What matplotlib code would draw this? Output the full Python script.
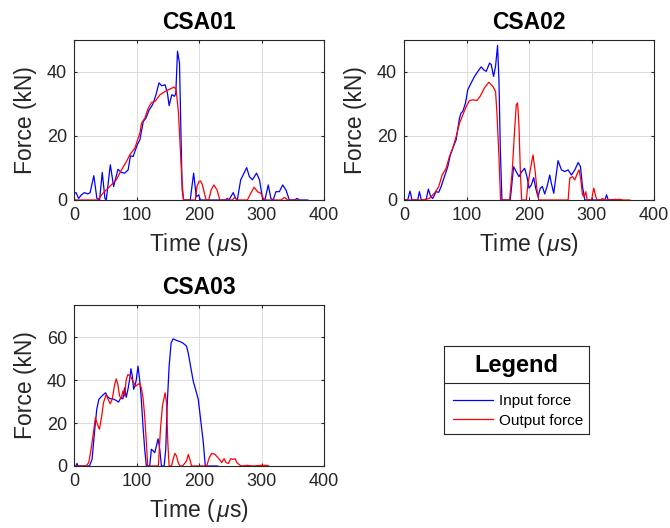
import matplotlib
matplotlib.use("Agg")
import matplotlib.pyplot as plt

plt.rcParams['font.family'] = ['Liberation Sans', 'DejaVu Sans']
plt.rcParams['mathtext.fontset'] = 'custom'
plt.rcParams['mathtext.it'] = 'Liberation Sans:italic'
plt.rcParams['mathtext.rm'] = 'Liberation Sans'

titles = ["CSA01", "CSA02", "CSA03"]
series_labels = ["Input force", "Output force"]
xticks = [0, 100, 200, 300, 400]

# ---- CSA01 ----
t1_in = [0, 3.2, 7.5, 11.8, 16.7, 22, 25.8, 31.7, 36.6, 40.9, 45.2, 49.5, 51.6, 58.1, 63.4,
         70.4, 75.8, 81.2, 86.6, 90.3, 94.6, 101.1, 105.4, 110.8, 115.1, 120.4, 125.8, 131.2,
         136, 140.3, 145.7, 149.5, 152.2, 156.5, 160.8, 162.9, 165.6, 168.8, 171, 173.1, 175.3,
         180.6, 186, 191.4, 195.7, 199.5, 202.2, 242.5, 245.2, 247.8, 254.8, 258.6, 261.3,
         266.7, 272, 276.3, 280.6, 285.5, 292, 296.8, 301.6, 305.4, 310.8, 315, 318.8, 323.1,
         328.5, 333.9, 339.2, 344.6, 352.7, 357, 360.8, 374]
f1_in = [2.1, 2.3, 0.5, 1.6, 2.3, 1.9, 2.3, 7.6, 0.5, 0, 8.6, 0.5, 0, 11, 4.2,
         9.6, 8.6, 8.4, 9.4, 13.8, 13.6, 17.2, 18.8, 24.5, 25.6, 28.2, 29.8, 32.9,
         36.6, 35.7, 36, 33.4, 29.5, 32.9, 32.4, 33.4, 46.5, 42.8, 21.9, 3.1, 0,
         0, 0, 8.4, 1.0, 1.6, 0, 0, 0.5, 0, 2.3, 0.5, 0,
         6.3, 8.4, 10.1, 7.3, 6.3, 8.4, 6.3, 0.5, 0, 4.7, 0.5, 0, 2.6,
         2.6, 4.7, 3.1, 0, 0, 0.5, 0, 0]
t1_out = [0, 38.2, 46.2, 57, 67.7, 75.8, 83.9, 89.2, 97.3, 105.4, 108.1, 113.4, 118.8, 124.2,
          129.6, 137.6, 145.7, 153.8, 160.2, 163.4, 167.2, 169.9, 172.6, 175.3, 194.1, 196.8,
          199.5, 202.2, 205, 207.5, 211.3, 215.6, 219.4, 223.7, 229, 233.3, 253.2, 257, 261.3,
          277.4, 282.8, 288.2, 293.5, 298.9, 304.3, 331.2, 336.6, 341.9, 360]
f1_out = [0, 0, 2.1, 4.2, 6.3, 9.4, 12, 14.1, 16.2, 20.9, 24, 25.6, 28.7, 30.5,
          30.8, 32.9, 33.9, 34.7, 35.3, 34.5, 27.2, 16.7, 6.3, 0, 0, 4.2,
          5.6, 6.0, 5.0, 3.1, 0, 0, 3.1, 4.7, 3.1, 0, 0, 0.8, 0,
          0, 2.1, 4.0, 2.6, 2.1, 0, 0, 0.8, 0, 0]

# ---- CSA02 ----
t2_in = [0, 5.9, 9.6, 12.8, 21.9, 24.6, 27.8, 35.3, 39, 42.8, 46, 51.3, 55.6, 59.4, 64.7, 70,
         73.8, 78, 83.4, 88.8, 91.4, 94.1, 98.4, 102.1, 107.5, 112.8, 118.2, 123.5, 127.3,
         131.6, 136.9, 139.6, 143.3, 146.5, 149.7, 151.9, 154, 156.7, 170, 172.7, 175.4,
         179.7, 184, 188.2, 193, 196.8, 200, 203.7, 207.5, 210.7, 214.4, 218.2, 221.4, 225.1,
         228.9, 233.2, 235.8, 239.6, 246.5, 251.9, 257.2, 262.6, 267.9, 273.3, 278.6, 282.4,
         285.6, 289.3, 321.4, 324.1, 326.7, 338, 340]
f2_in = [0, 0, 2.8, 0, 0, 2.6, 0, 0, 3.4, 1.0, 0.5, 2.6, 2.4, 4.2, 7.3, 10.4,
         13.8, 16.2, 18.8, 25.6, 27.2, 27.7, 30.3, 34.5, 36.6, 38.6, 40.2, 41.6, 40.7,
         40.2, 42.8, 42.3, 38.6, 41.8, 48.3, 37.6, 16.7, 0, 0, 5.2, 10.4,
         8.8, 7.3, 8.8, 9.9, 7.3, 3.7, 4.7, 7.0, 3.7, 1.0, 3.7, 4.2, 1.9,
         4.2, 7.8, 5.2, 2.1, 12.3, 9.4, 8.9, 9.4, 7.8, 9.4, 11.7, 10.4,
         4.2, 0, 0, 1.6, 0, 0.2, 0]
t2_out = [0, 29.9, 40.6, 48.7, 55.6, 61, 67.4, 72.7, 78.1, 83.4, 88.8, 94.1, 99.5, 104.8,
          110.2, 116.6, 121.9, 128.9, 135.8, 142.2, 146.5, 148.7, 151.9, 154.5, 169, 173.3,
          177, 179.7, 181.8, 184, 186.1, 188.2, 195.7, 198.4, 202.1, 206.4, 209.6, 212.8,
          215.5, 262.6, 265.2, 269.5, 273.3, 277.5, 280.2, 282.9, 285.6, 288.2, 290.9, 293,
          300, 303.7, 306.9, 309.1, 314.4, 317.6, 321.4, 345.5, 350.8, 361.5]
f2_out = [0, 0, 0.5, 2.1, 4.2, 7.8, 9.9, 13.6, 16.2, 19.8, 24, 26.6, 29.2, 31.1,
          31.3, 31.1, 32.4, 35.1, 36.8, 35.5, 33.9, 27.2, 13.6, 0, 0, 9.4,
          22, 29.8, 30.3, 23, 9.4, 0, 0, 5.2, 9.4, 14.1, 9.4, 3.1,
          0, 0, 6.8, 7.3, 6.3, 8.4, 9.4, 6.3, 1.6, 1.0, 2.6, 0,
          0, 3.7, 1.0, 0, 0, 0.5, 0, 0.2, 0, 0]

# ---- CSA03 ----
t3_in = [0, 3.2, 4.8, 6.4, 24.7, 28.9, 32.7, 36.4, 39.7, 43.4, 47.2, 50.4, 54.1, 57.9, 62.2,
         66.5, 71.3, 75, 78.2, 80.9, 83.6, 86.3, 89, 91.1, 93.3, 95.4, 97.5, 99.7, 102.4, 105,
         107.7, 110.4, 113.1, 115.8, 121.1, 123.8, 126.5, 129.2, 131.8, 134.5, 137.2, 139.9,
         144.2, 146.8, 149, 152.2, 155.4, 158.6, 161.8, 165.1, 169.3, 174.7, 180.1, 182.7,
         186.5, 190.8, 194.5, 198.8, 202.6, 206.9, 210.1, 230]
f3_in = [0, 0, 1.2, 0, 0, 3.1, 15.5, 26.4, 31, 32.2, 33.3, 34.1, 32.2, 31.3, 31.3,
         30.7, 29.8, 31.8, 31.3, 36.4, 32, 35.7, 40.3, 45.3, 41.9, 35.7, 37.2, 40.3, 46.5, 40.3,
         31, 18.6, 7.8, 0, 0, 7.8, 7.1, 6.2, 9.3, 12.7, 7.8, 0,
         0, 7.8, 27.9, 46.5, 57.4, 59.2, 58.8, 58.4, 58.0, 57.2, 55.8, 52.7,
         46.5, 39.5, 35.7, 31, 21.7, 10.9, 0, 0]
t3_out = [0, 19.3, 23.6, 27.3, 31.1, 34.3, 37.5, 40.7, 43.9, 47.2, 51.4, 54.7, 57.9, 61.1,
          64.8, 67.5, 70.2, 72.9, 75.6, 78.2, 80.9, 83.6, 86.3, 90, 94.3, 98.6, 102.4, 105,
          107.7, 110.4, 113.1, 115.8, 117.9, 135, 138.3, 141.5, 145.8, 148, 150.1, 152.2, 156,
          158.6, 161.3, 164, 166.7, 169.3, 173.6, 180.1, 182.7, 185.4, 188.1, 212.2, 216.5,
          220.3, 225.6, 232.6, 236.4, 240.1, 243.3, 247.1, 250.8, 254, 257.8, 260.5, 265.8,
          268.5, 276.5, 287.2, 297.9, 308.7, 311.4]
f3_out = [0, 0, 1.6, 7.8, 15.5, 22.5, 19.4, 17.1, 22.5, 29.5, 33.3, 31, 29, 31,
          37.5, 40.6, 38, 32.6, 31.3, 34.9, 32.6, 40.3, 42.6, 41.9, 39.5, 37.2, 38, 38.5,
          36.4, 31.8, 23.3, 10.9, 0, 0, 17.1, 27.9, 34.1, 29.5, 10.9, 0, 0,
          3.1, 5.9, 4.7, 1.6, 0, 0, 2.3, 5.4, 3.1, 0, 0, 3.9,
          5.9, 5.4, 3.1, 1.6, 3.4, 1.6, 1.2, 3.4, 3.1, 3.4, 1.6, 0.3,
          0, 0.3, 0, 0.3, 0.3, 0]

datasets = [(t1_in, f1_in, t1_out, f1_out, [0, 20, 40], 50),
            (t2_in, f2_in, t2_out, f2_out, [0, 20, 40], 50),
            (t3_in, f3_in, t3_out, f3_out, [0, 20, 40, 60], 75)]

W, H = 670, 528
fig = plt.figure(figsize=(W / 100, H / 100), dpi=100)

boxes = [(74, 40, 250, 160), (404, 40, 250, 160), (74, 305, 250, 161)]
axc = '#262626'
lines_for_legend = None
for (x0, y0, w, h), title, (ti, fi, to, fo, yt, ymax) in zip(boxes, titles, datasets):
    ax = fig.add_axes([x0 / W, 1 - (y0 + h) / H, w / W, h / H])
    l1, = ax.plot(ti, fi, color=(0, 0, 1), lw=0.9, zorder=2)
    l2, = ax.plot(to, fo, color=(1, 0, 0), lw=0.9, zorder=2)
    lines_for_legend = (l1, l2)
    ax.set_xlim(0, 400)
    ax.set_ylim(0, ymax)
    ax.set_xticks(xticks)
    ax.set_yticks(yt)
    ax.grid(True, color='#dcdcdc', lw=0.7, zorder=0)
    ax.set_axisbelow(True)
    for s in ax.spines.values():
        s.set_color(axc)
        s.set_linewidth(0.8)
        s.set_zorder(3)
    ax.tick_params(direction='in', length=2.5, width=0.8, top=True, right=True,
                   colors=axc, labelsize=13, pad=5)
    ax.set_title(title, fontsize=16.5, fontweight='bold', pad=8, color='black')
    ax.set_xlabel(r'Time ($\,\mu$s)', fontsize=16.5, color=axc, labelpad=5)
    ax.set_ylabel('Force (kN)', fontsize=16.5, color=axc, labelpad=7)

# Legend panel
lx0, ly0, lw_, lh = 444, 346, 145, 88
lax = fig.add_axes([lx0 / W, 1 - (ly0 + lh) / H, lw_ / W, lh / H])
lax.set_xticks([])
lax.set_yticks([])
for s in lax.spines.values():
    s.set_color(axc)
    s.set_linewidth(0.8)
lax.set_xlim(0, 1)
lax.set_ylim(0, 1)
lax.text(0.5, 1 - 19 / lh, 'Legend', ha='center', va='center', fontsize=17,
         fontweight='bold', color='black')
lax.axhline(1 - 37 / lh, color=axc, lw=0.8)
lax.legend(lines_for_legend, series_labels, loc='lower left', bbox_to_anchor=(0.03, 0.02),
           frameon=False, fontsize=11, handlelength=2.6, handletextpad=0.4,
           labelspacing=0.35, borderaxespad=0.0, borderpad=0.3)

fig.savefig('out.png', dpi=100)
